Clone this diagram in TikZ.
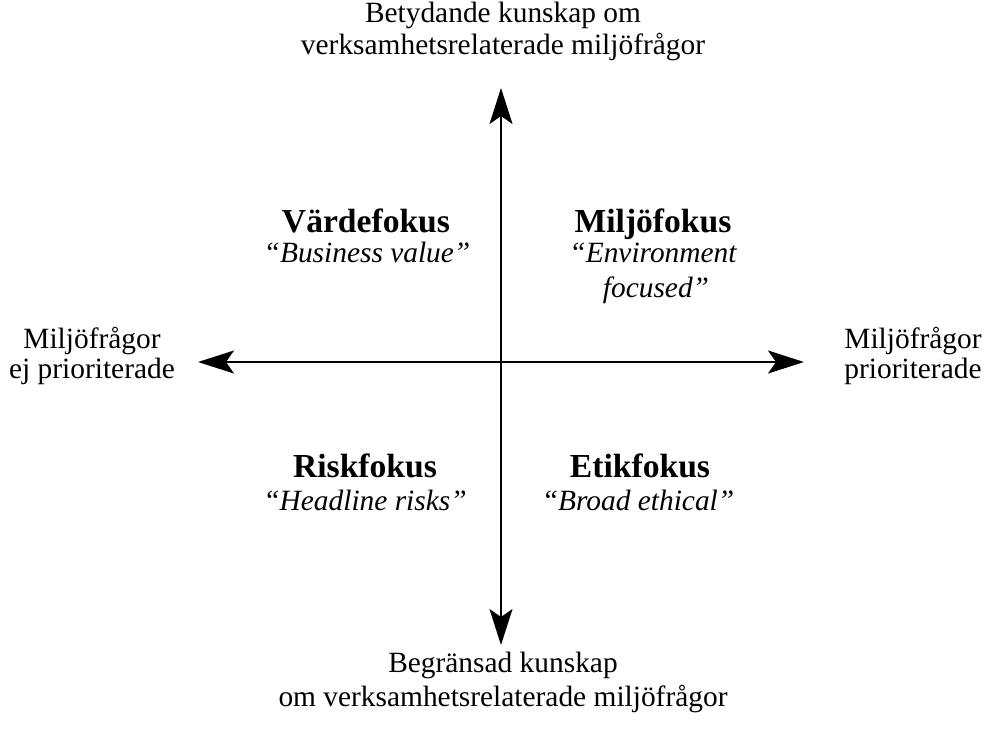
\documentclass[tikz,border=0pt]{standalone}
\usepackage{fontspec}
\setmainfont{Liberation Serif}
\usetikzlibrary{arrows.meta}
\begin{document}
\begin{tikzpicture}[x=0.5pt,y=-0.5pt,
  lbl/.style={inner sep=0pt,anchor=base,font=\fontsize{14.7}{17.5}\selectfont},
  ttl/.style={inner sep=0pt,anchor=base,font=\fontsize{16.8}{19}\selectfont\bfseries},
  sub/.style={inner sep=0pt,anchor=base,font=\fontsize{14.7}{17.5}\selectfont\itshape},
  axis/.style={line width=1pt,>={Stealth[length=18pt,width=11.5pt,inset=4pt]},<->}]
\useasboundingbox (0,0) rectangle (986,735);
\coordinate (T) at (501,88);
\coordinate (B) at (501,645);
\coordinate (L) at (198,362);
\coordinate (R) at (804,362);
\draw[axis] (T) -- (B);
\draw[axis] (L) -- (R);
\node[lbl] (top1) at (503,22) {Betydande kunskap om};
\node[lbl] (top2) at (503,54) {verksamhetsrelaterade miljöfrågor};
\node[lbl] (bot1) at (503,672) {Begränsad kunskap};
\node[lbl] (bot2) at (503,706) {om verksamhetsrelaterade miljöfrågor};
\node[lbl] (left1) at (92,348) {Miljöfrågor};
\node[lbl] (left2) at (92,378) {ej prioriterade};
\node[lbl] (right1) at (913,348) {Miljöfrågor};
\node[lbl] (right2) at (913,378) {prioriterade};
\node[ttl] (q1) at (366,232) {Värdefokus};
\node[sub] (q1s) at (367,262) {“Business value”};
\node[ttl] (q2) at (653,232) {Miljöfokus};
\node[sub] (q2s) at (653,262) {“Environment};
\node[sub] (q2t) at (656,297) {focused”};
\node[ttl] (q3) at (365,477) {Riskfokus};
\node[sub] (q3s) at (365,510) {“Headline risks”};
\node[ttl] (q4) at (640,477) {Etikfokus};
\node[sub] (q4s) at (638,510) {“Broad ethical”};
\end{tikzpicture}
\end{document}
